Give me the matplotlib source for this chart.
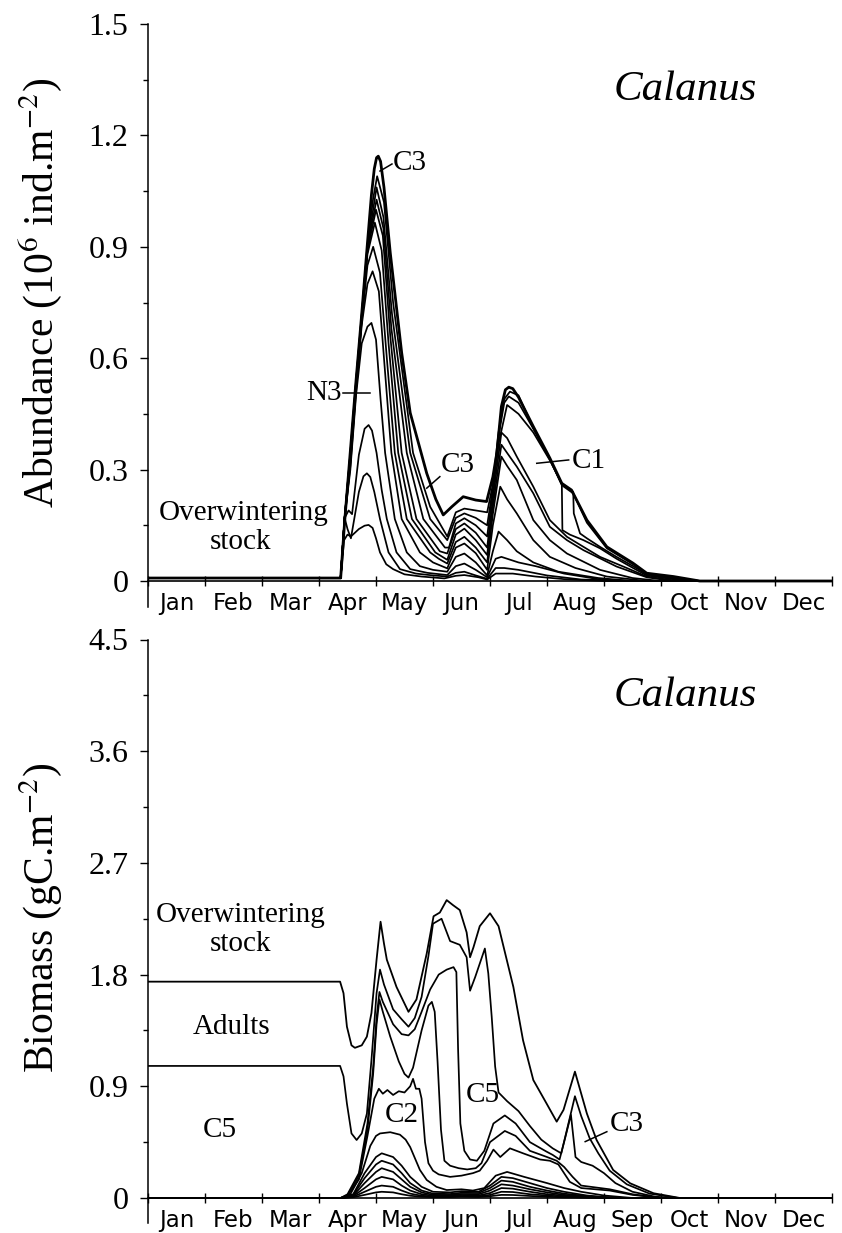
import matplotlib
matplotlib.use("Agg")
import matplotlib.pyplot as plt
from matplotlib.ticker import FixedLocator, NullFormatter, FixedFormatter

plt.rcParams['font.family'] = ['Liberation Serif', 'DejaVu Serif']
plt.rcParams['mathtext.fontset'] = 'stix'

# ---------------- data ----------------
months = ['Jan', 'Feb', 'Mar', 'Apr', 'May', 'Jun', 'Jul', 'Aug', 'Sep', 'Oct', 'Nov', 'Dec']

abund_ticks = [0, 0.3, 0.6, 0.9, 1.2, 1.5]
abund_ticklabels = ['0', '0.3', '0.6', '0.9', '1.2', '1.5']
biom_ticks = [0, 0.9, 1.8, 2.7, 3.6, 4.5]
biom_ticklabels = ['0', '0.9', '1.8', '2.7', '3.6', '4.5']

# Abundance (10^6 ind m-2), cumulative stage curves; time in months from 1 Jan
A1_t = [0, 3.38, 3.44, 3.5, 3.56, 3.7, 3.8, 3.87, 3.94, 4.0, 4.07, 4.18, 4.3, 4.5, 4.8, 5.2, 5.4, 5.55, 5.8, 5.95, 6.1, 6.4, 6.8, 7.3, 8.0, 12]
A1_v = [0.008, 0.008, 0.11, 0.125, 0.12, 0.14, 0.149, 0.151, 0.143, 0.115, 0.077, 0.045, 0.032, 0.018, 0.012, 0.007, 0.014, 0.016, 0.01, 0.004, 0.02, 0.02, 0.012, 0.005, 0.0, 0.0]
A2_t = [0, 3.38, 3.45, 3.5, 3.56, 3.7, 3.78, 3.84, 3.9, 3.97, 4.07, 4.22, 4.42, 4.7, 5.0, 5.25, 5.4, 5.55, 5.75, 5.95, 6.1, 6.25, 6.5, 7.0, 7.6, 8.5, 12]
A2_v = [0.008, 0.008, 0.17, 0.14, 0.115, 0.24, 0.282, 0.29, 0.28, 0.24, 0.167, 0.077, 0.032, 0.02, 0.015, 0.012, 0.022, 0.025, 0.015, 0.006, 0.035, 0.035, 0.03, 0.015, 0.004, 0, 0]
A3_t = [0, 3.38, 3.45, 3.52, 3.58, 3.7, 3.8, 3.87, 3.93, 4.01, 4.1, 4.19, 4.36, 4.6, 4.9, 5.25, 5.4, 5.55, 5.75, 5.95, 6.1, 6.2, 6.5, 6.8, 7.3, 7.9, 8.5, 12]
A3_v = [0.008, 0.008, 0.17, 0.19, 0.18, 0.34, 0.41, 0.42, 0.405, 0.345, 0.245, 0.167, 0.077, 0.032, 0.022, 0.016, 0.04, 0.047, 0.03, 0.01, 0.06, 0.065, 0.05, 0.04, 0.02, 0.005, 0, 0]
A4_t = [0, 3.38, 3.45, 3.55, 3.65, 3.75, 3.85, 3.92, 4.0, 4.08, 4.16, 4.33, 4.54, 4.77, 5.0, 5.25, 5.4, 5.55, 5.75, 5.95, 6.05, 6.15, 6.3, 6.47, 6.76, 7.2, 7.9, 8.5, 12]
A4_v = [0.008, 0.008, 0.17, 0.3, 0.5, 0.64, 0.685, 0.695, 0.65, 0.49, 0.345, 0.167, 0.077, 0.04, 0.03, 0.025, 0.065, 0.074, 0.05, 0.015, 0.08, 0.133, 0.11, 0.08, 0.05, 0.025, 0.008, 0, 0]
A5_t = [0, 3.38, 3.45, 3.55, 3.65, 3.75, 3.85, 3.94, 4.05, 4.15, 4.27, 4.45, 4.77, 5.0, 5.25, 5.4, 5.55, 5.75, 5.95, 6.05, 6.18, 6.3, 6.47, 6.76, 7.05, 7.5, 8.05, 8.75, 12]
A5_v = [0.008, 0.008, 0.17, 0.31, 0.51, 0.69, 0.80, 0.834, 0.78, 0.58, 0.345, 0.167, 0.077, 0.05, 0.034, 0.09, 0.101, 0.075, 0.03, 0.15, 0.254, 0.22, 0.182, 0.11, 0.065, 0.035, 0.012, 0, 0]
A6_t = [0, 3.38, 3.45, 3.55, 3.65, 3.75, 3.85, 3.95, 4.07, 4.19, 4.33, 4.54, 4.95, 5.1, 5.25, 5.4, 5.55, 5.75, 5.95, 6.05, 6.2, 6.3, 6.47, 6.76, 7.05, 7.35, 7.93, 8.5, 9.0, 12]
A6_v = [0.008, 0.008, 0.17, 0.32, 0.52, 0.70, 0.85, 0.90, 0.83, 0.6, 0.345, 0.167, 0.077, 0.06, 0.047, 0.105, 0.119, 0.09, 0.05, 0.18, 0.335, 0.31, 0.272, 0.164, 0.11, 0.074, 0.03, 0.008, 0, 0]
A7_t = [0, 3.38, 3.45, 3.55, 3.65, 3.75, 3.85, 3.98, 4.1, 4.22, 4.39, 4.63, 5.04, 5.25, 5.4, 5.55, 5.75, 5.95, 6.05, 6.2, 6.3, 6.47, 6.76, 7.05, 7.35, 7.64, 8.22, 8.75, 9.2, 12]
A7_v = [0.008, 0.008, 0.17, 0.33, 0.525, 0.705, 0.88, 0.965, 0.89, 0.64, 0.345, 0.167, 0.077, 0.057, 0.125, 0.141, 0.11, 0.07, 0.2, 0.367, 0.345, 0.308, 0.236, 0.146, 0.11, 0.083, 0.039, 0.01, 0, 0]
A8_t = [0, 3.38, 3.45, 3.55, 3.65, 3.75, 3.85, 4.0, 4.12, 4.25, 4.45, 4.71, 5.12, 5.25, 5.4, 5.55, 5.75, 5.95, 6.05, 6.2, 6.3, 6.47, 6.76, 7.05, 7.35, 7.64, 7.93, 8.4, 8.75, 9.3, 12]
A8_v = [0.008, 0.008, 0.17, 0.335, 0.53, 0.71, 0.89, 1.0, 0.93, 0.66, 0.345, 0.167, 0.08, 0.074, 0.14, 0.155, 0.13, 0.09, 0.22, 0.40, 0.385, 0.335, 0.254, 0.164, 0.119, 0.092, 0.065, 0.035, 0.012, 0, 0]
A9_t = [0, 3.38, 3.45, 3.55, 3.65, 3.75, 3.85, 4.01, 4.13, 4.27, 4.54, 4.83, 5.21, 5.28, 5.4, 5.55, 5.75, 5.95, 6.05, 6.15, 6.3, 6.5, 6.76, 7.05, 7.26, 7.27, 7.4, 7.64, 7.93, 8.22, 8.51, 8.75, 9.3, 9.7, 12]
A9_v = [0.008, 0.008, 0.17, 0.34, 0.535, 0.715, 0.9, 1.027, 0.95, 0.68, 0.345, 0.167, 0.09, 0.09, 0.155, 0.169, 0.15, 0.12, 0.24, 0.37, 0.474, 0.45, 0.40, 0.325, 0.262, 0.137, 0.125, 0.11, 0.088, 0.06, 0.035, 0.015, 0.003, 0, 0]
A10_t = [0, 3.38, 3.45, 3.55, 3.65, 3.75, 3.85, 3.95, 4.01, 4.13, 4.28, 4.6, 4.95, 5.25, 5.4, 5.55, 5.75, 5.95, 6.05, 6.15, 6.25, 6.33, 6.5, 6.76, 7.05, 7.26, 7.46, 7.47, 7.58, 7.7, 7.93, 8.22, 8.51, 8.75, 9.3, 9.7, 12]
A10_v = [0.008, 0.008, 0.17, 0.345, 0.535, 0.715, 0.9, 1.0, 1.06, 0.98, 0.72, 0.345, 0.167, 0.11, 0.17, 0.182, 0.17, 0.15, 0.25, 0.39, 0.48, 0.497, 0.48, 0.41, 0.328, 0.262, 0.24, 0.182, 0.128, 0.115, 0.092, 0.065, 0.04, 0.018, 0.005, 0, 0]
A11_t = [0, 3.38, 3.45, 3.55, 3.65, 3.75, 3.85, 3.95, 4.02, 4.14, 4.3, 4.65, 4.95, 5.25, 5.4, 5.55, 5.75, 5.95, 6.05, 6.15, 6.25, 6.35, 6.5, 6.76, 7.05, 7.26, 7.46, 7.7, 8.05, 8.51, 8.75, 9.22, 9.68, 12]
A11_v = [0.008, 0.008, 0.17, 0.345, 0.54, 0.72, 0.905, 1.03, 1.09, 1.02, 0.75, 0.345, 0.2, 0.12, 0.185, 0.195, 0.19, 0.185, 0.26, 0.40, 0.49, 0.51, 0.50, 0.412, 0.328, 0.258, 0.236, 0.157, 0.088, 0.045, 0.019, 0.009, 0, 0]
A12_t = [0, 3.38, 3.45, 3.55, 3.65, 3.75, 3.85, 3.92, 3.97, 4.01, 4.04, 4.08, 4.14, 4.25, 4.45, 4.6, 4.89, 5.05, 5.18, 5.33, 5.53, 5.75, 5.94, 6.05, 6.12, 6.2, 6.27, 6.33, 6.4, 6.5, 6.76, 7.05, 7.26, 7.43, 7.7, 8.05, 8.51, 8.75, 9.22, 9.68, 12]
A12_v = [0.008, 0.008, 0.16, 0.35, 0.54, 0.72, 0.91, 1.04, 1.11, 1.14, 1.144, 1.13, 1.06, 0.884, 0.615, 0.453, 0.29, 0.22, 0.178, 0.20, 0.227, 0.218, 0.214, 0.28, 0.345, 0.47, 0.515, 0.522, 0.518, 0.495, 0.416, 0.331, 0.263, 0.245, 0.164, 0.092, 0.048, 0.021, 0.012, 0, 0]

# Biomass (gC m-2), cumulative stage curves
B1_t = [0, 3.37, 3.43, 3.49, 3.57, 3.63, 3.75, 3.84, 3.92, 4.01, 4.08, 4.14, 4.19, 4.36, 4.57, 4.71, 4.89, 5.01, 5.12, 5.24, 5.35, 5.47, 5.59, 5.65, 5.71, 5.82, 6.0, 6.15, 6.41, 6.58, 6.76, 6.99, 7.17, 7.29, 7.49, 7.70, 7.87, 8.16, 8.46, 8.87, 9.33, 12]
B1_v = [1.743, 1.743, 1.65, 1.38, 1.23, 1.21, 1.23, 1.30, 1.49, 1.92, 2.226, 2.05, 1.92, 1.70, 1.50, 1.60, 1.97, 2.27, 2.30, 2.40, 2.36, 2.32, 2.14, 1.94, 2.02, 2.19, 2.294, 2.19, 1.70, 1.27, 0.95, 0.763, 0.615, 0.71, 1.018, 0.68, 0.467, 0.226, 0.118, 0.038, 0.0, 0.0]
B2_t = [0, 3.37, 3.43, 3.49, 3.57, 3.66, 3.75, 3.84, 3.92, 4.01, 4.07, 4.14, 4.3, 4.45, 4.57, 4.68, 4.8, 4.92, 5.0, 5.15, 5.30, 5.47, 5.59, 5.65, 5.74, 5.91, 5.97, 6.03, 6.09, 6.15, 6.3, 6.5, 6.7, 6.9, 7.1, 7.25, 7.35, 7.49, 7.6, 7.75, 7.9, 8.1, 8.4, 8.8, 9.3, 12]
B2_v = [1.064, 1.064, 0.98, 0.76, 0.52, 0.467, 0.52, 0.68, 1.11, 1.65, 1.84, 1.72, 1.52, 1.44, 1.38, 1.45, 1.62, 1.95, 2.21, 2.25, 2.07, 2.04, 1.94, 1.67, 1.78, 2.01, 1.81, 1.46, 1.06, 0.85, 0.78, 0.70, 0.58, 0.47, 0.40, 0.36, 0.55, 0.82, 0.66, 0.48, 0.36, 0.22, 0.11, 0.035, 0, 0]
B3_t = [0, 3.38, 3.5, 3.7, 3.85, 3.95, 4.01, 4.06, 4.12, 4.3, 4.45, 4.57, 4.68, 4.8, 4.95, 5.1, 5.24, 5.36, 5.41, 5.44, 5.48, 5.55, 5.65, 5.77, 5.9, 6.06, 6.26, 6.45, 6.7, 6.99, 7.1, 7.22, 7.3, 7.42, 7.46, 7.5, 7.6, 7.8, 8.0, 8.2, 8.5, 8.9, 9.3, 12]
B3_v = [0, 0, 0.03, 0.2, 0.6, 1.05, 1.45, 1.66, 1.58, 1.40, 1.32, 1.31, 1.36, 1.50, 1.68, 1.80, 1.84, 1.86, 1.82, 1.2, 0.6, 0.38, 0.31, 0.30, 0.38, 0.6, 0.665, 0.6, 0.45, 0.374, 0.347, 0.31, 0.45, 0.67, 0.5, 0.33, 0.29, 0.26, 0.2, 0.12, 0.05, 0.01, 0, 0]
B4_t = [0, 3.38, 3.5, 3.7, 3.85, 3.95, 4.01, 4.06, 4.12, 4.25, 4.4, 4.5, 4.57, 4.65, 4.8, 4.92, 4.98, 5.03, 5.08, 5.14, 5.2, 5.3, 5.45, 5.6, 5.75, 5.85, 6.0, 6.26, 6.45, 6.7, 7.0, 7.17, 7.3, 7.45, 7.6, 8.1, 8.5, 9.0, 12]
B4_v = [0, 0, 0.02, 0.18, 0.55, 1.0, 1.4, 1.60, 1.5, 1.3, 1.1, 1.0, 0.97, 1.05, 1.35, 1.55, 1.58, 1.5, 1.1, 0.55, 0.30, 0.26, 0.24, 0.23, 0.24, 0.28, 0.45, 0.54, 0.50, 0.38, 0.33, 0.30, 0.25, 0.17, 0.10, 0.07, 0.03, 0, 0]
B5_t = [0, 3.38, 3.5, 3.7, 3.85, 3.97, 4.05, 4.12, 4.2, 4.3, 4.4, 4.5, 4.6, 4.65, 4.7, 4.76, 4.8, 4.86, 4.92, 5.0, 5.1, 5.3, 5.5, 5.7, 5.82, 5.95, 6.06, 6.18, 6.35, 6.58, 6.88, 7.05, 7.2, 7.4, 7.6, 8.1, 8.5, 9.0, 12]
B5_v = [0, 0, 0.02, 0.15, 0.5, 0.8, 0.88, 0.84, 0.87, 0.83, 0.86, 0.85, 0.90, 0.96, 0.88, 0.88, 0.80, 0.45, 0.28, 0.22, 0.19, 0.17, 0.18, 0.2, 0.22, 0.3, 0.39, 0.33, 0.40, 0.36, 0.31, 0.3, 0.27, 0.13, 0.08, 0.06, 0.025, 0, 0]
B6_t = [0, 3.38, 3.55, 3.75, 3.9, 4.0, 4.07, 4.25, 4.42, 4.52, 4.6, 4.77, 4.89, 5.06, 5.24, 5.5, 5.7, 5.9, 6.1, 6.3, 6.6, 7.0, 7.3, 7.6, 8.0, 8.5, 12]
B6_v = [0, 0, 0.03, 0.2, 0.42, 0.50, 0.52, 0.53, 0.51, 0.47, 0.41, 0.226, 0.145, 0.09, 0.064, 0.07, 0.06, 0.08, 0.18, 0.21, 0.17, 0.12, 0.08, 0.05, 0.02, 0, 0]
Blow_t = [0, 3.4, 3.6, 3.8, 4.0, 4.1, 4.3, 4.45, 4.6, 4.8, 5.0, 5.3, 5.5, 5.8, 6.0, 6.2, 6.4, 6.7, 7.0, 7.3, 7.7, 8.2, 12]
B7_v = [0, 0, 0.03, 0.2, 0.33, 0.36, 0.33, 0.26, 0.17, 0.09, 0.05, 0.045, 0.055, 0.05, 0.1, 0.17, 0.16, 0.12, 0.08, 0.05, 0.02, 0, 0]
B8_v = [0, 0, 0.025, 0.16, 0.27, 0.30, 0.27, 0.2, 0.12, 0.06, 0.035, 0.032, 0.042, 0.04, 0.08, 0.14, 0.13, 0.09, 0.06, 0.035, 0.015, 0, 0]
B9_v = [0, 0, 0.02, 0.12, 0.21, 0.24, 0.21, 0.15, 0.09, 0.045, 0.025, 0.024, 0.032, 0.03, 0.06, 0.11, 0.10, 0.07, 0.045, 0.025, 0.01, 0, 0]
B10_v = [0, 0, 0.015, 0.08, 0.15, 0.17, 0.15, 0.1, 0.06, 0.03, 0.018, 0.017, 0.024, 0.02, 0.04, 0.08, 0.075, 0.05, 0.03, 0.018, 0.006, 0, 0]
B11_v = [0, 0, 0.01, 0.05, 0.09, 0.10, 0.09, 0.06, 0.035, 0.018, 0.012, 0.012, 0.016, 0.013, 0.025, 0.05, 0.048, 0.03, 0.02, 0.01, 0.004, 0, 0]
B12_v = [0, 0, 0.006, 0.025, 0.045, 0.05, 0.045, 0.03, 0.018, 0.01, 0.007, 0.007, 0.01, 0.008, 0.014, 0.025, 0.024, 0.016, 0.01, 0.005, 0.002, 0, 0]

abund_curves = [(A1_t, A1_v), (A2_t, A2_v), (A3_t, A3_v), (A4_t, A4_v), (A5_t, A5_v),
                (A6_t, A6_v), (A7_t, A7_v), (A8_t, A8_v), (A9_t, A9_v), (A10_t, A10_v),
                (A11_t, A11_v)]
abund_envelope = (A12_t, A12_v)
biom_curves = [(B2_t, B2_v), (B3_t, B3_v), (B4_t, B4_v), (B5_t, B5_v), (B6_t, B6_v),
               (Blow_t, B7_v), (Blow_t, B8_v), (Blow_t, B9_v), (Blow_t, B10_v),
               (Blow_t, B11_v), (Blow_t, B12_v)]
biom_envelope = (B1_t, B1_v)

# ---------------- figure ----------------
W, H = 842, 1233
fig = plt.figure(figsize=(W / 100, H / 100), dpi=100)
ax1 = fig.add_axes([148 / W, 1 - 607 / H, 684 / W, (607 - 24) / H])
ax2 = fig.add_axes([148 / W, 1 - 1222.8 / H, 684 / W, (1222.8 - 639.5) / H])

month_edges = list(range(13))
month_centers = [i + 0.5 for i in range(12)]


def style(ax, ymin, ymax, ticks, labels, minor_ticks):
    ax.set_xlim(0, 12)
    ax.set_ylim(ymin, ymax)
    for s in ['top', 'right']:
        ax.spines[s].set_visible(False)
    ax.spines['bottom'].set_position(('data', 0))
    ax.spines['left'].set_linewidth(1.1)
    ax.spines['bottom'].set_linewidth(1.2)
    ax.xaxis.set_major_locator(FixedLocator(month_edges))
    ax.xaxis.set_major_formatter(NullFormatter())
    ax.xaxis.set_minor_locator(FixedLocator(month_centers))
    ax.xaxis.set_minor_formatter(FixedFormatter(months))
    ax.tick_params(axis='x', which='major', direction='inout', length=7, width=1)
    ax.tick_params(axis='x', which='minor', length=0, pad=8, labelsize=16.5,
                   labelfontfamily='DejaVu Sans')
    ax.yaxis.set_major_locator(FixedLocator(ticks))
    ax.yaxis.set_major_formatter(FixedFormatter(labels))
    ax.yaxis.set_minor_locator(FixedLocator(minor_ticks))
    ax.tick_params(axis='y', which='major', direction='out', length=6, width=1,
                   labelsize=23, pad=8)
    ax.tick_params(axis='y', which='minor', direction='out', length=3.5, width=1)


style(ax1, -0.07, 1.5, abund_ticks, abund_ticklabels,
      [0.15, 0.45, 0.75, 1.05, 1.35])
style(ax2, -0.2, 4.5, biom_ticks, biom_ticklabels,
      [0.45, 1.35, 2.25, 3.15, 4.05])

for t, v in abund_curves:
    ax1.plot(t, v, color='black', lw=1.25, solid_joinstyle='round')
ax1.plot(*abund_envelope, color='black', lw=2.0, solid_joinstyle='round')
for t, v in biom_curves:
    ax2.plot(t, v, color='black', lw=1.25, solid_joinstyle='round')
ax2.plot(*biom_envelope, color='black', lw=1.3, solid_joinstyle='round')

# labels
ax1.set_ylabel(r'Abundance (10$^{6}$ ind.m$^{-2}$)', fontsize=30)
ax1.yaxis.set_label_coords(-0.1228, 0.5386)
ax2.set_ylabel(r'Biomass (gC.m$^{-2}$)', fontsize=30)
ax2.yaxis.set_label_coords(-0.1228, 0.5225)

ax1.text(9.42, 1.322, 'Calanus', fontsize=31, style='italic', ha='center', va='center')
ax2.text(9.42, 4.05, 'Calanus', fontsize=31, style='italic', ha='center', va='center')

fs = 21
ax1.text(1.67, 0.183, 'Overwintering', fontsize=fs, ha='center', va='center')
ax1.text(1.63, 0.105, 'stock', fontsize=fs, ha='center', va='center')
ax1.text(4.30, 1.126, 'C3', fontsize=fs, ha='left', va='center')
ax1.plot([4.07, 4.28], [1.104, 1.123], color='black', lw=1.1)
ax1.text(3.40, 0.506, 'N3', fontsize=fs, ha='right', va='center')
ax1.plot([3.42, 3.89], [0.506, 0.506], color='black', lw=1.1)
ax1.text(5.14, 0.312, 'C3', fontsize=fs, ha='left', va='center')
ax1.plot([4.89, 5.12], [0.25, 0.281], color='black', lw=1.1)
ax1.text(7.44, 0.322, 'C1', fontsize=fs, ha='left', va='center')
ax1.plot([6.82, 7.38], [0.317, 0.326], color='black', lw=1.1)

ax2.text(1.63, 2.28, 'Overwintering', fontsize=fs, ha='center', va='center')
ax2.text(1.63, 2.05, 'stock', fontsize=fs, ha='center', va='center')
ax2.text(1.46, 1.38, 'Adults', fontsize=fs, ha='center', va='center')
ax2.text(1.26, 0.55, 'C5', fontsize=fs, ha='center', va='center')
ax2.text(4.46, 0.67, 'C2', fontsize=fs, ha='center', va='center')
ax2.text(5.88, 0.83, 'C5', fontsize=fs, ha='center', va='center')
ax2.text(8.1, 0.6, 'C3', fontsize=fs, ha='left', va='center')
ax2.plot([7.67, 8.05], [0.454, 0.534], color='black', lw=1.1)

fig.savefig('out.png', dpi=100)
